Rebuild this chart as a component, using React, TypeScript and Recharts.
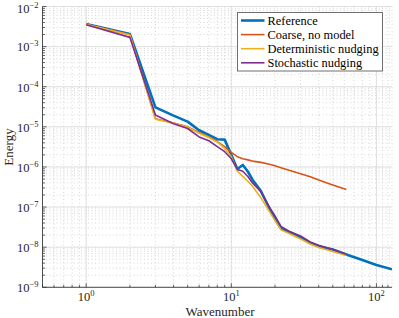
import React from 'react';
import { LineChart, Line, XAxis, YAxis, CartesianGrid, ReferenceLine } from 'recharts';

const wavenumbers = [1, 2, 3, 4, 5, 6, 7, 8, 9, 10, 11, 12, 13, 14, 16, 18, 20, 22, 25, 30, 35, 40, 50, 62, 80, 100, 128];

const reference = [3.66e-3, 2.06e-3, 3.06e-5, 1.9e-5, 1.35e-5, 8.2e-6, 6.3e-6, 4.9e-6, 4.8e-6, 2.0e-6, 8.9e-7, 1.12e-6, 7.7e-7, 4.8e-7, 2.5e-7, 1.05e-7, 5.0e-8, 2.9e-8, 2.4e-8, 1.75e-8, 1.25e-8, 1.05e-8, 8.8e-9, 6.6e-9, 4.8e-9, 3.6e-9, 2.8e-9];
const coarse = [3.6e-3, 2.0e-3, 1.6e-5, 1.25e-5, 1.0e-5, 7.2e-6, 5.6e-6, 4.3e-6, 3.2e-6, 2.3e-6, 1.8e-6, 1.6e-6, 1.5e-6, 1.4e-6, 1.3e-6, 1.18e-6, 1.07e-6, 9.6e-7, 8.3e-7, 6.8e-7, 5.7e-7, 4.7e-7, 3.55e-7, 2.75e-7];
const deterministic = [3.6e-3, 1.95e-3, 1.55e-5, 1.24e-5, 9.8e-6, 6.9e-6, 5.4e-6, 4.2e-6, 2.9e-6, 1.8e-6, 7.8e-7, 5.8e-7, 4.4e-7, 3.3e-7, 1.7e-7, 8.5e-8, 4.6e-8, 2.7e-8, 2.2e-8, 1.6e-8, 1.2e-8, 9.8e-9, 7.8e-9, 6.2e-9];
const stochastic = [3.5e-3, 1.7e-3, 1.97e-5, 1.2e-5, 9.1e-6, 5.6e-6, 4.5e-6, 3.2e-6, 2.4e-6, 1.6e-6, 8.7e-7, 7.8e-7, 5.8e-7, 4.0e-7, 2.4e-7, 1.1e-7, 6.0e-8, 3.3e-8, 2.5e-8, 1.9e-8, 1.35e-8, 1.12e-8, 8.8e-9, 6.7e-9];

const seriesNames = ['Reference', 'Coarse, no model', 'Deterministic nudging', 'Stochastic nudging'];
const seriesKeys = ['reference', 'coarse', 'deterministic', 'stochastic'];
const seriesColors = ['#0072BD', '#D95319', '#EDB120', '#7E2F8E'];
const seriesWidths = [2.6, 1.6, 1.6, 1.6];

const xTicks = [0.5, 0.6, 0.7, 0.8, 0.9, 1, 2, 3, 4, 5, 6, 7, 8, 9, 10, 20, 30, 40, 50, 60, 70, 80, 90, 100, 110, 120];
const xMajor = [1, 10, 100];
const yExponents = [-9, -8, -7, -6, -5, -4, -3, -2];

const yTicks: number[] = [];
yExponents.forEach((e) => {
  if (e === -2) {
    yTicks.push(1e-2);
  } else {
    for (let m = 1; m <= 9; m++) yTicks.push(Number((m * Math.pow(10, e)).toPrecision(3)));
  }
});
const yMajor = yExponents.map((e) => Number(Math.pow(10, e).toPrecision(3)));

const data = wavenumbers.map((k, i) => ({
  k,
  reference: reference[i],
  coarse: coarse[i],
  deterministic: deterministic[i],
  stochastic: stochastic[i],
}));

const FONT = '"Liberation Serif", "DejaVu Serif", serif';
const AXIS = '#262626';

const isMajor = (v: number) => {
  const l = Math.log10(v);
  return Math.abs(l - Math.round(l)) < 1e-6;
};

const XTick = (props: any) => {
  const { x, y, payload } = props;
  const v = payload.value;
  const major = isMajor(v);
  const exp = Math.round(Math.log10(v));
  return (
    <g>
      <line x1={x} x2={x} y1={y} y2={y - (major ? 4 : 2.5)} stroke={AXIS} strokeWidth={0.7} />
      {major && (
        <text x={x} y={y + 14} textAnchor="middle" fontFamily={FONT} fontSize={12.5} fill={AXIS}>
          10<tspan dy={-5} fontSize={8.5}>{String(exp)}</tspan>
        </text>
      )}
    </g>
  );
};

const YTick = (props: any) => {
  const { x, y, payload } = props;
  const v = payload.value;
  const major = isMajor(v);
  const exp = Math.round(Math.log10(v));
  const shift = y < 12 ? 1.8 : 0;
  return (
    <g>
      <line x1={x} x2={x + (major ? 4 : 2.5)} y1={y} y2={y} stroke={AXIS} strokeWidth={0.7} />
      {major && (
        <text x={x - 4} y={y + 4.8 + shift} textAnchor="end" fontFamily={FONT} fontSize={12.5} fill={AXIS}>
          10<tspan dy={-5} fontSize={8.5}>{'\u2212' + String(Math.abs(exp))}</tspan>
        </text>
      )}
    </g>
  );
};

const LegendBox = () => (
  <svg
    width={147}
    height={60}
    style={{ position: 'absolute', left: 236.5, top: 12, overflow: 'visible' }}
  >
    <rect x={0.5} y={0.5} width={145} height={58.5} fill="#ffffff" stroke="#6e6e6e" strokeWidth={1} />
    {seriesNames.map((name, i) => (
      <g key={name}>
        <line
          x1={4}
          x2={27.5}
          y1={8.5 + i * 14.1}
          y2={8.5 + i * 14.1}
          stroke={seriesColors[i]}
          strokeWidth={seriesWidths[i]}
        />
        <text x={30.5} y={12.8 + i * 14.1} fontFamily={FONT} fontSize={12.4} fill="#000">
          {name}
        </text>
      </g>
    ))}
  </svg>
);

export default function App() {
  return (
    <div style={{ position: 'relative', width: 399, height: 318 }}>
      <style>{'body{margin:0;}'}</style>
      <LineChart
        width={399}
        height={318}
        data={data}
        margin={{ top: 6.5, right: 7, bottom: 0, left: 0 }}
      >
        <CartesianGrid
          stroke="#bdbdbd"
          strokeDasharray="1 2.5"
          strokeWidth={0.6}
        />
        {xMajor.map((v) => (
          <ReferenceLine key={'xm' + v} x={v} stroke="#dcdcdc" strokeWidth={0.8} />
        ))}
        {yMajor.map((v) => (
          <ReferenceLine key={'ym' + v} y={v} stroke="#dcdcdc" strokeWidth={0.8} />
        ))}
        <XAxis
          dataKey="k"
          type="number"
          scale="log"
          domain={[0.5, 128]}
          allowDataOverflow
          ticks={xTicks}
          interval={0}
          tick={<XTick />}
          tickLine={false}
          tickSize={0}
          tickMargin={0}
          height={30.7}
          axisLine={{ stroke: AXIS, strokeWidth: 0.8 }}
          label={{
            content: () => (
              <text x={220} y={315.5} textAnchor="middle" fontFamily={FONT} fontSize={13} fill={AXIS}>
                Wavenumber
              </text>
            ),
          }}
        />
        <YAxis
          type="number"
          scale="log"
          domain={[1e-9, 1e-2]}
          allowDataOverflow
          ticks={yTicks}
          interval={0}
          tick={<YTick />}
          tickLine={false}
          tickSize={0}
          tickMargin={0}
          width={42.5}
          axisLine={{ stroke: AXIS, strokeWidth: 0.8 }}
          label={{
            content: () => (
              <text
                x={13}
                y={147}
                transform="rotate(-90 13 147)"
                textAnchor="middle"
                fontFamily={FONT}
                fontSize={13}
                fill={AXIS}
              >
                Energy
              </text>
            ),
          }}
        />
        {seriesKeys.map((key, i) => (
          <Line
            key={key}
            dataKey={key}
            type="linear"
            stroke={seriesColors[i]}
            strokeWidth={seriesWidths[i]}
            dot={false}
            activeDot={false}
            isAnimationActive={false}
            strokeLinejoin="round"
          />
        ))}
      </LineChart>
      <LegendBox />
    </div>
  );
}
